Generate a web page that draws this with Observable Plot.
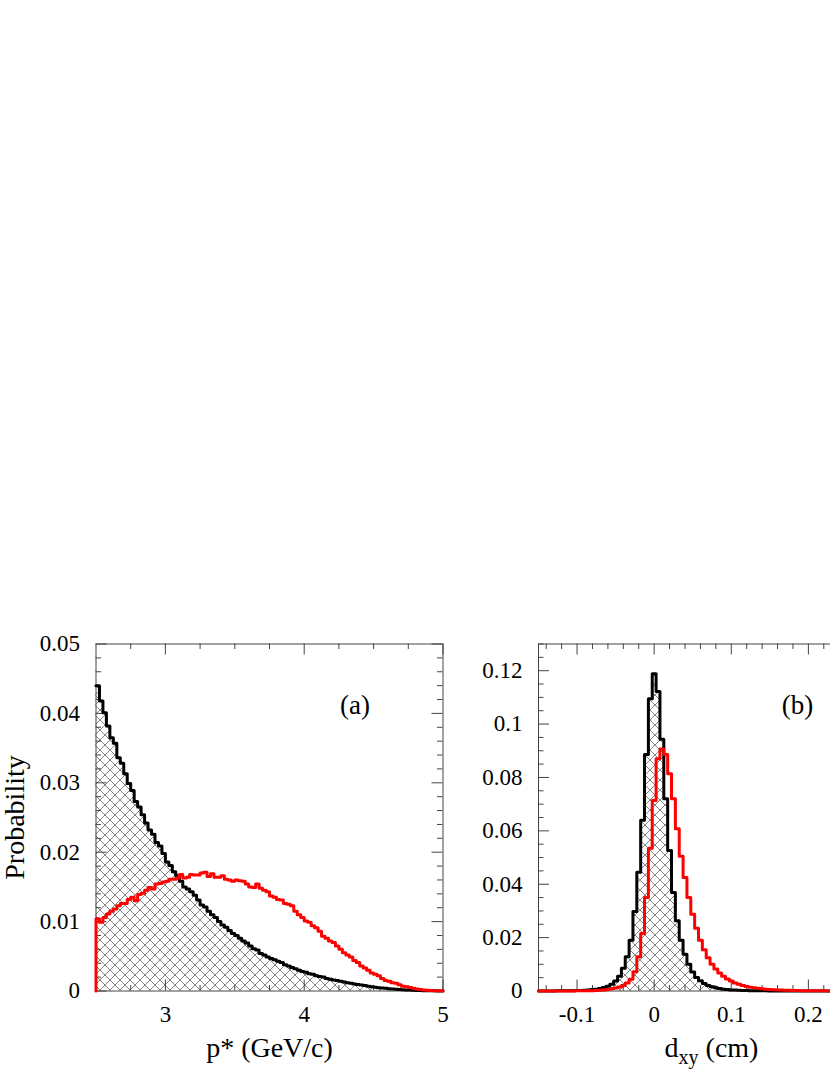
<!DOCTYPE html>
<html><head><meta charset="utf-8">
<script src="https://cdn.jsdelivr.net/npm/d3@7"></script>
<script src="https://cdn.jsdelivr.net/npm/@observablehq/plot@0.6"></script>
<style>
html,body{margin:0;padding:0;background:#fff;overflow:hidden;}
#page{position:relative;width:830px;height:1075px;overflow:hidden;background:#fff;}
#left,#right{position:absolute;top:600px;width:460px;height:475px;}
#left{left:0px;}
#right{left:440px;}
</style></head>
<body><div id="page"><div id="left"></div><div id="right"></div></div>
<script>
// ---------- Panel (a): p* distribution, 100 bins from 2.5 to 5 GeV/c ----------
const pStarRange = [2.5, 5];
const pStarBinWidth = 0.025;
const pStarHatched = [0.0440,0.0418,0.0401,0.0382,0.0365,0.0357,0.0336,0.0328,0.0313,0.0299,
0.0289,0.0273,0.0265,0.0254,0.0242,0.0232,0.0226,0.0214,0.0209,0.0198,
0.0186,0.0181,0.0172,0.0166,0.0158,0.0150,0.0147,0.0143,0.0138,0.0131,
0.0124,0.0121,0.0115,0.0110,0.0106,0.0100,0.0095,0.0092,0.0087,0.0083,
0.0080,0.0076,0.0072,0.0069,0.0065,0.0061,0.0059,0.0054,0.0052,0.0049,
0.0047,0.0045,0.0043,0.0041,0.0038,0.0036,0.0034,0.0032,0.0030,0.0028,
0.0027,0.0025,0.0024,0.0022,0.0021,0.0020,0.0018,0.0017,0.0016,0.0015,
0.0014,0.0013,0.0012,0.0011,0.0010,0.00092,0.00085,0.00078,0.00068,0.00060,
0.00055,0.00048,0.00042,0.00038,0.00033,0.00029,0.00025,0.00022,0.00018,0.00015,
0.00013,0.00011,0.00009,0.00007,0.00005,0.00004,0.00003,0.00002,0.00001,0.00001];
const pStarRed = [0.0104,0.0099,0.0106,0.0111,0.0115,0.0118,0.0123,0.0126,0.0126,0.0132,
0.0135,0.0130,0.0139,0.0141,0.0145,0.0149,0.0147,0.0154,0.0155,0.0157,
0.0158,0.0161,0.0161,0.0163,0.0168,0.0163,0.0164,0.0168,0.0167,0.0167,
0.0170,0.0171,0.0165,0.0169,0.0164,0.0164,0.0166,0.0161,0.0160,0.0158,
0.0160,0.0159,0.0158,0.0154,0.0150,0.0149,0.0154,0.0148,0.0145,0.0143,
0.0137,0.0135,0.0132,0.0131,0.0126,0.0125,0.0123,0.0115,0.0110,0.0106,
0.0101,0.0099,0.0094,0.0091,0.0086,0.0079,0.0076,0.0072,0.0070,0.0065,
0.0060,0.0055,0.0052,0.0049,0.0044,0.0041,0.0036,0.0033,0.0030,0.0026,
0.0024,0.0022,0.0018,0.0015,0.0014,0.0012,0.0011,0.0009,0.0007,0.0006,
0.0005,0.0004,0.0003,0.0002,0.00015,0.0001,0.00007,0.00005,0.00003,0.00002];
const pStarXTicks = [3, 4, 5];
const pStarXTickLabels = ["3", "4", "5"];
const pStarXMinor = [2.75, 3.25, 3.5, 3.75, 4.25, 4.5, 4.75];
const pStarYTicks = [0, 0.01, 0.02, 0.03, 0.04, 0.05];
const pStarYTickLabels = ["0", "0.01", "0.02", "0.03", "0.04", "0.05"];
const pStarYDomain = [0, 0.05];

// ---------- Panel (b): d_xy distribution, bins of 0.005 cm centred on k*0.005, k=-30..60 ----------
const dxyRange = [-0.15, 0.3];
const dxyBinWidth = 0.005;
const dxyFirstCentre = -0.15;
const dxyHatched = [
0.00002,0.00002,0.00003,0.00003,0.00004,0.00005,0.00006,0.00008,0.0001,0.00013,
0.00017,0.00022,0.0003,0.0004,0.00055,0.0007,0.0009,0.0013,0.0018,0.0025,
0.0037,0.0055,0.0085,0.0128,0.0190,0.0298,0.0445,0.0640,0.0886,0.1095,
0.1189,
0.1122,0.0943,0.0720,0.0526,0.0369,0.0263,0.0190,0.0138,0.0100,0.0071,
0.0051,0.0038,0.0028,0.0021,0.0016,0.0012,0.0009,0.0007,0.00055,0.00042,
0.00033,0.00026,0.0002,0.00016,0.00012,0.0001,0.00008,0.00006,0.00005,0.00004,
0.00003,0.00003,0.00002,0.00002,0.00002,0.00001,0.00001,0.00001,0.00001,0.00001,
0,0,0,0,0,0,0,0,0,0,
0,0,0,0,0,0,0,0,0,0];
const dxyRed = [
0,0,0,0.00001,0.00001,0.00001,0.00002,0.00002,0.00003,0.00004,
0.00005,0.00006,0.00008,0.0001,0.00014,0.0002,0.0003,0.0004,0.0006,0.0008,
0.0011,0.0015,0.0021,0.0030,0.0044,0.0072,0.0128,0.0215,0.0350,0.0535,
0.0714,
0.0870,0.0907,0.0886,0.0814,0.0720,0.0608,0.0505,0.0425,0.0350,0.0288,
0.0235,0.0190,0.0155,0.0125,0.0100,0.0082,0.0067,0.0055,0.0045,0.0037,
0.0030,0.0025,0.0021,0.0017,0.0014,0.0012,0.0010,0.00085,0.0007,0.0006,
0.0005,0.00042,0.00035,0.0003,0.00025,0.0002,0.00017,0.00014,0.00012,0.0001,
0.00008,0.00007,0.00006,0.00005,0.00004,0.00004,0.00003,0.00003,0.00002,0.00002,
0.00002,0.00001,0.00001,0.00001,0.00001,0.00001,0,0,0,0];
const dxyXTicks = [-0.1, 0, 0.1, 0.2, 0.3];
const dxyXLabelTicks = [-0.1, 0, 0.1, 0.2];
const dxyXTickLabels = ["-0.1", "0", "0.1", "0.2"];
const dxyYTicks = [0, 0.02, 0.04, 0.06, 0.08, 0.1, 0.12];
const dxyYTickLabels = ["0", "0.02", "0.04", "0.06", "0.08", "0.1", "0.12"];
const dxyYDomain = [0, 0.13];

// ---------- helpers ----------
const FW = 347, FH = 347;        // frame size in px
const MAJOR = 11, MINOR = 5.5;   // tick lengths
const axisColor = "#444";
const serif = "Liberation Serif, Times New Roman, serif";

function stepPoints(edges, values, leftEdge) {
  const pts = [];
  if (leftEdge) pts.push({x: edges[0], y: 0});
  values.forEach((v, i) => pts.push({x: edges[i], y: v}));
  pts.push({x: edges[values.length], y: values[values.length - 1]});
  pts.push({x: edges[values.length], y: 0});
  return pts;
}
function labelled(vals, labels) { return vals.map((v, i) => ({v, label: labels[i]})); }
function ticksMarks(xMaj, xMin, yMaj, yMin) {
  const o = {stroke: axisColor, strokeWidth: 1};
  return [
    Plot.ruleX(xMaj, {x: d => d, insetTop: FH - MAJOR, ...o}),
    Plot.ruleX(xMin, {x: d => d, insetTop: FH - MINOR, ...o}),
    Plot.ruleX(xMaj, {x: d => d, insetBottom: FH - MAJOR, ...o}),
    Plot.ruleX(xMin, {x: d => d, insetBottom: FH - MINOR, ...o}),
    Plot.ruleY(yMaj, {y: d => d, insetRight: FW - MAJOR, ...o}),
    Plot.ruleY(yMin, {y: d => d, insetRight: FW - MINOR, ...o}),
    Plot.ruleY(yMaj, {y: d => d, insetLeft: FW - MAJOR, ...o}),
    Plot.ruleY(yMin, {y: d => d, insetLeft: FW - MINOR, ...o})
  ];
}
function addHatch(svg, id) {
  const defs = d3.select(svg).insert("defs", ":first-child");
  const p = defs.append("pattern").attr("id", id).attr("patternUnits", "userSpaceOnUse")
    .attr("width", 10).attr("height", 10);
  p.append("path").attr("d", "M0,0L10,10M10,0L0,10M-1,1L1,-1M9,11L11,9M-1,9L1,11M9,-1L11,1")
    .attr("stroke", "#666").attr("stroke-width", 0.8).attr("fill", "none");
}
const style = {maxWidth: "none", background: "transparent", fontFamily: serif, fontSize: "23px", color: "#000", overflow: "visible"};

// ---------- Panel (a) ----------
const pEdges = d3.range(pStarHatched.length + 1).map(i => pStarRange[0] + i * pStarBinWidth);
const pHatchPts = stepPoints(pEdges, pStarHatched, false);
const pRedPts = stepPoints(pEdges, pStarRed, true);
const pYMinor = d3.range(1, 25).map(i => i * 0.002).filter(v => Math.abs(v * 100 - Math.round(v * 100)) > 1e-6);

const left = Plot.plot({
  width: 445, height: 475,
  marginLeft: 95.5, marginRight: 2.5, marginTop: 43.5, marginBottom: 84.5,
  x: {domain: pStarRange, axis: null},
  y: {domain: pStarYDomain, axis: null},
  style,
  marks: [
    Plot.areaY(pHatchPts, {x: "x", y: "y", curve: "step-after", fill: "url(#hatchA)"}),
    Plot.frame({stroke: axisColor, strokeWidth: 1}),
    ...ticksMarks(pStarXTicks, pStarXMinor, pStarYTicks, pYMinor),
    Plot.line(pHatchPts, {x: "x", y: "y", curve: "step-after", stroke: "#000", strokeWidth: 3}),
    Plot.line(pRedPts, {x: "x", y: "y", curve: "step-after", stroke: "#ff0000", strokeWidth: 3}),
    Plot.text(labelled(pStarYTicks, pStarYTickLabels), {y: "v", text: "label", frameAnchor: "left", textAnchor: "end", dx: -16}),
    Plot.text(labelled(pStarXTicks, pStarXTickLabels), {x: "v", text: "label", frameAnchor: "bottom", textAnchor: "middle", lineAnchor: "top", dy: 15}),
    Plot.text(["Probability"], {text: d => d, frameAnchor: "left", textAnchor: "middle", rotate: -90, lineAnchor: "bottom", dx: -72, fontSize: 28}),
    Plot.text(["p* (GeV/c)"], {text: d => d, frameAnchor: "bottom", textAnchor: "middle", lineAnchor: "bottom", dy: 66, fontSize: 28}),
    Plot.text(["(a)"], {text: d => d, frameAnchor: "top-right", textAnchor: "middle", lineAnchor: "bottom", dx: -88, dy: 70, fontSize: 27})
  ]
});
addHatch(left, "hatchA");
document.getElementById("left").appendChild(left);

// ---------- Panel (b) ----------
const dEdges = [dxyRange[0]].concat(d3.range(1, dxyHatched.length).map(i => dxyFirstCentre + (i - 0.5) * dxyBinWidth)).concat([dxyRange[1]]);
const dHatchPts = stepPoints(dEdges, dxyHatched, false);
const dRedPts = stepPoints(dEdges, dxyRed, true);
const dXMinor = d3.range(-7, 16).map(i => i * 0.02).filter(v => Math.abs(v * 10 - Math.round(v * 10)) > 1e-6);
const dYMinor = d3.range(1, 27).map(i => i * 0.005).filter(v => Math.abs(v * 50 - Math.round(v * 50)) > 1e-6);

const right = Plot.plot({
  width: 450, height: 475,
  marginLeft: 98, marginRight: 5, marginTop: 43.5, marginBottom: 84.5,
  x: {domain: dxyRange, axis: null},
  y: {domain: dxyYDomain, axis: null},
  style,
  marks: [
    Plot.areaY(dHatchPts, {x: "x", y: "y", curve: "step-after", fill: "url(#hatchB)"}),
    Plot.frame({stroke: axisColor, strokeWidth: 1}),
    ...ticksMarks(dxyXTicks, dXMinor, dxyYTicks, dYMinor),
    Plot.line(dHatchPts, {x: "x", y: "y", curve: "step-after", stroke: "#000", strokeWidth: 3}),
    Plot.line(dRedPts, {x: "x", y: "y", curve: "step-after", stroke: "#ff0000", strokeWidth: 3}),
    Plot.text(labelled(dxyYTicks, dxyYTickLabels), {y: "v", text: "label", frameAnchor: "left", textAnchor: "end", dx: -16}),
    Plot.text(labelled(dxyXLabelTicks, dxyXTickLabels), {x: "v", text: "label", frameAnchor: "bottom", textAnchor: "middle", lineAnchor: "top", dy: 15}),
    Plot.text(["(b)"], {text: d => d, frameAnchor: "top-left", textAnchor: "middle", lineAnchor: "bottom", dx: 259, dy: 70, fontSize: 27})
  ]
});
addHatch(right, "hatchB");
// axis title with subscript
const title = d3.select(right).append("text")
  .attr("x", 98 + FW / 2).attr("y", 475 - 84.5 + 66)
  .attr("text-anchor", "middle").attr("font-size", 28).attr("font-family", serif).attr("fill", "#000");
title.append("tspan").text("d");
title.append("tspan").attr("font-size", 20).attr("dy", 7).text("xy");
title.append("tspan").attr("dy", -7).text(" (cm)");
document.getElementById("right").appendChild(right);
</script></body></html>
